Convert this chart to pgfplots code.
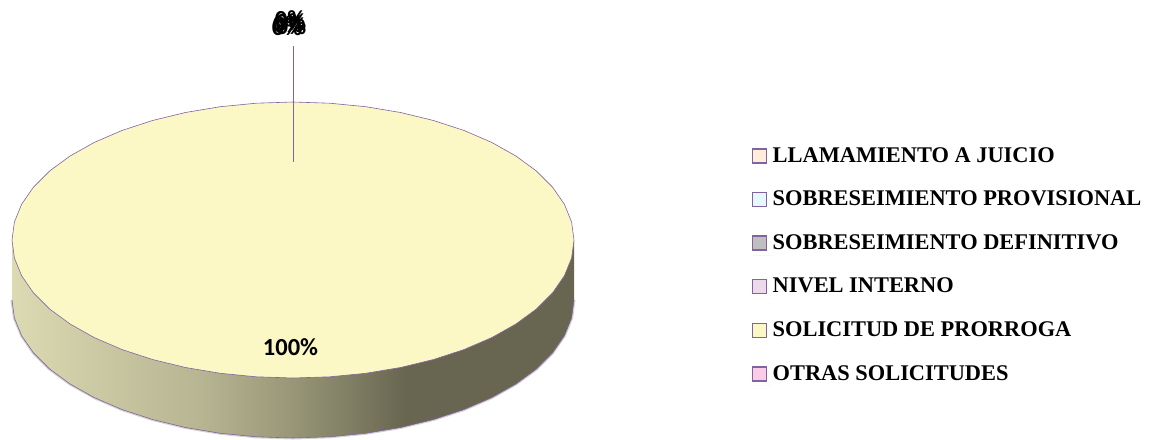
\documentclass[border=0pt]{standalone}
\usepackage{pgfplots}
\pgfplotsset{compat=1.18}
\usepackage{fontspec}
\setmainfont{Liberation Serif}
\newfontfamily\calibri{Carlito}

\definecolor{edge}{HTML}{8064A2}
\definecolor{prorroga}{HTML}{FBF8C6}
\definecolor{pieA}{HTML}{DBDAB2}
\definecolor{pieB}{HTML}{B7B592}
\definecolor{pieC}{HTML}{989677}
\definecolor{pieD}{HTML}{686650}
\pgfdeclarehorizontalshading{pieside}{100bp}{
  color(0bp)=(pieA); color(25bp)=(pieA); color(41.7bp)=(pieB); color(50bp)=(pieC);
  color(60bp)=(pieD); color(100bp)=(pieD)}

% rim of the disc in image pixels: lower half of the top face and of the base
\pgfplotstableread{
x top low
574 240 300
571.6 258 318
564.4 275.7 335.7
552.6 292.8 352.8
536.4 309 369
515.9 324 384
491.7 337.6 397.6
464.1 349.5 409.5
433.5 359.5 419.5
400.5 367.5 427.5
365.7 373.3 433.3
329.7 376.8 436.8
293 378 438
256.3 376.8 436.8
220.3 373.3 433.3
185.5 367.5 427.5
152.5 359.5 419.5
121.9 349.5 409.5
94.3 337.6 397.6
70.1 324 384
49.6 309 369
33.4 292.8 352.8
21.6 275.7 335.7
14.4 258 318
12 240 300
}\rimfront
% upper half of the top face
\pgfplotstableread{
x top
12 240
14.4 222
21.6 204.3
33.4 187.2
49.6 171
70.1 156
94.3 142.4
121.9 130.5
152.5 120.5
185.5 112.5
220.3 106.7
256.3 103.2
293 102
329.7 103.2
365.7 106.7
400.5 112.5
433.5 120.5
464.1 130.5
491.7 142.4
515.9 156
536.4 171
552.6 187.2
564.4 204.3
571.6 222
574 240
}\rimback

\begin{document}
\begin{tikzpicture}
\begin{axis}[
    width=1157pt, height=439pt,
    scale only axis,
    xmin=0, xmax=1157,
    ymin=0, ymax=439,
    y dir=reverse,
    axis lines=none,
    clip=false,
    legend image code/.code={
        \draw[line width=1.4pt,#1] (0pt,5pt) rectangle (14pt,19pt);
        \path[draw=none] (0pt,0pt) -- (20pt,0pt);},
    legend style={
        at={(axis cs:752,146)}, anchor=north west,
        draw=none, fill=none,
        inner sep=0pt, outer sep=0pt,
        row sep=0pt,
        font=\fontsize{22.4}{22.4}\selectfont\bfseries,
        nodes={text height=16pt, text depth=27.6pt, inner sep=0pt, outer sep=0pt},
    },
    legend cell align=left,
]
% keeps the page as large as the axis
\addplot[draw=none, forget plot] coordinates {(0,0) (1157,439)};
% soft shadow behind the side wall
\addplot[draw=gray!35, line width=3pt, forget plot] table[x=x, y=low] {\rimfront};
% side wall
\addplot[shading=pieside, shading angle=0, draw=none, forget plot] table[x=x, y=low] {\rimfront};
\addplot[shading=pieside, shading angle=0, draw=none, forget plot] coordinates {(12,240) (574,240) (574,300) (12,300)};
\addplot[edge, line width=0.6pt, forget plot] table[x=x, y=low] {\rimfront};
% top face: SOLICITUD DE PRORROGA, the whole disc
\addplot[fill=prorroga, draw=edge, line width=0.6pt, forget plot] table[x=x, y=top] {\rimfront};
\addplot[fill=prorroga, draw=edge, line width=0.6pt, forget plot] table[x=x, y=top] {\rimback};
% leader of the 0 % labels
\addplot[edge, line width=0.7pt, forget plot] coordinates {(293,46) (293,162)};

% data labels
\addplot[only marks, mark=none, forget plot,
    nodes near coords, point meta=explicit symbolic,
    nodes near coords style={anchor=center, inner sep=0pt, font=\calibri\fontsize{24.5}{24.5}\selectfont\bfseries}]
  table[meta=label] {
x y label
290.5 347 {100\%}
287 27 {0\%}
288 24 {0\%}
290 19 {0\%}
291 22 {0\%}
291 26 {0\%}
};

\addlegendimage{fill=orange!15!white, draw=edge}
\addlegendentry{LLAMAMIENTO A JUICIO}
\addlegendimage{fill=cyan!10!white, draw=edge}
\addlegendentry{SOBRESEIMIENTO PROVISIONAL}
\addlegendimage{fill=black!25, draw=edge}
\addlegendentry{SOBRESEIMIENTO DEFINITIVO}
\addlegendimage{fill=violet!15!white, draw=edge}
\addlegendentry{NIVEL INTERNO}
\addlegendimage{fill=prorroga, draw=edge}
\addlegendentry{SOLICITUD DE PRORROGA}
\addlegendimage{fill=magenta!20!white, draw=edge}
\addlegendentry{OTRAS SOLICITUDES}
\end{axis}
\end{tikzpicture}
\end{document}
